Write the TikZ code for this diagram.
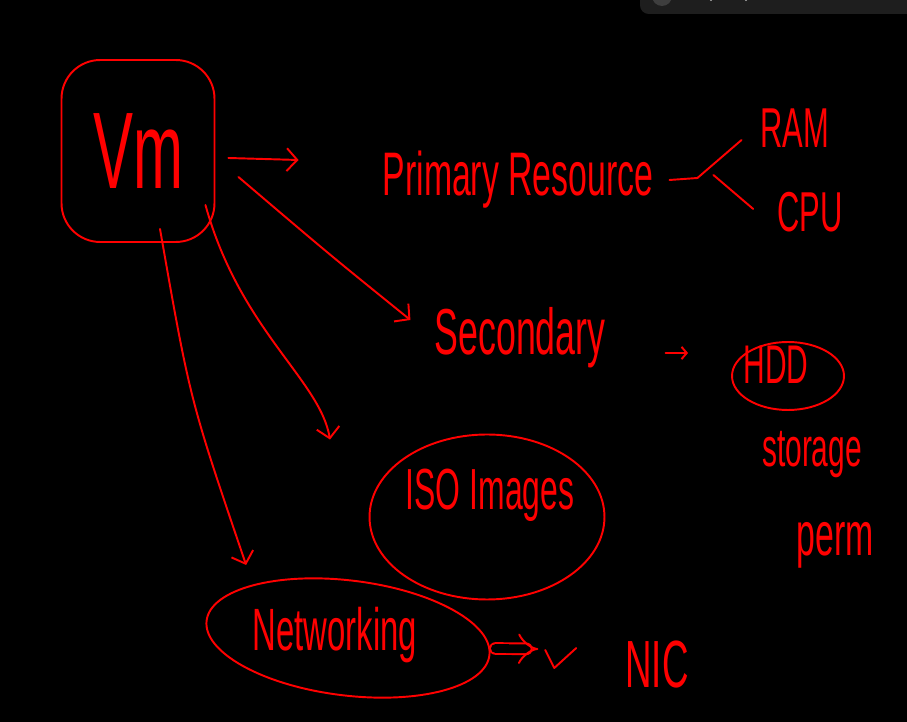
\documentclass[tikz,border=0pt]{standalone}
\usepackage{fontspec}
\setmainfont{Liberation Sans}
\newfontfamily\handfont[FakeStretch=0.55]{Liberation Sans}
\usetikzlibrary{shapes.geometric, arrows.meta, positioning}
\definecolor{ink}{RGB}{255, 0, 0}
\definecolor{board}{RGB}{0, 0, 0}
\definecolor{toolbar}{RGB}{30, 30, 30}
\definecolor{knob}{RGB}{62, 62, 62}

\begin{document}
\begin{tikzpicture}[
	x=0.02cm, y=-0.02cm,
	>={Straight Barb[length=6pt, width=13pt]},
	% Styles
	hand/.style={draw=ink, line width=1.1pt, line cap=round, line join=round},
	link/.style={hand, ->},
	scrawl/.style={text=ink, inner sep=1pt, font=\handfont\fontsize{#1}{#1}\selectfont},
	scrawl/.default=34,
	blob/.style={hand, ellipse, inner sep=0pt},
	vmbox/.style={hand, rounded corners=22pt, minimum width=3.06cm, minimum height=3.64cm, text=ink, font=\handfont\fontsize{62}{62}\selectfont}
	]
	
	% ==========================================
	% Board
	% ==========================================
	\fill[board] (0, 0) rectangle (907, 722);
	\useasboundingbox (0, 0) rectangle (907, 722);
	
	% Toolbar strip at the top
	\begin{scope}
		\clip (0, 0) rectangle (907, 722);
		\fill[toolbar, rounded corners=5pt] (640, -20) rectangle (930, 14);
		\fill[knob] (662, -4) circle (10);
		\fill[white!70!black] (711, 0) circle (1.2);
		\fill[white!70!black] (746, 0) circle (1.2);
	\end{scope}
	
	% ==========================================
	% VM and its resources
	% ==========================================
	\node[vmbox] (vm) at (138, 151) {Vm};
	
	\node[scrawl=35] (primary) at (518, 180) {Primary Resource};
	\node[scrawl=32] (ram) at (795, 128) {RAM};
	\node[scrawl=32] (cpu) at (810, 212) {CPU};
	
	\node[scrawl=37] (secondary) at (520, 338) {Secondary};
	\node[blob, minimum width=2.24cm, minimum height=1.36cm] (hddring) at (788, 376) {};
	\node[scrawl=31] (hdd) at (776, 365) {HDD};
	\node[scrawl=31] (storage) at (812, 455) {storage};
	\node[scrawl=35] (perm) at (835, 545) {perm};
	
	\node[blob, minimum width=4.7cm, minimum height=3.3cm] (isoring) at (487, 517) {};
	\node[scrawl=33] (iso) at (490, 495) {ISO Images};
	
	\node[blob, minimum width=5.7cm, minimum height=2.3cm, rotate=-7] (netring) at (348, 638) {};
	\node[scrawl=34] (net) at (335, 635) {Networking};
	\node[scrawl=38] (nic) at (657, 665) {NIC};
	
	% Arrows out of the VM
	\draw[link] ([shift={(13,7)}]vm.east) -- ([shift={(-82,-20)}]primary.west);
	\draw[link] ([shift={(23,26)}]vm.east) .. controls (330, 255) .. ([shift={(-22,-18)}]secondary.west);
	\draw[link] ([shift={(-10,54)}]vm.east) .. controls (240, 330) and (320, 380) .. ([shift={(-157,6)}]isoring.north);
	\draw[link] ([shift={(22,-14)}]vm.south) .. controls (190, 400) .. ([shift={(-109,-15)}]netring.north);
	
	% Primary resource splits into RAM and CPU
	\coordinate (fork) at ([shift={(42,-2)}]primary.east);
	\draw[hand] ([xshift=8pt]primary.east) -- (fork) -- ([shift={(-17,12)}]ram.west);
	\draw[hand] ([shift={(16,-3)}]fork) -- ([shift={(-22,-3)}]cpu.west);
	
	% Secondary to HDD
	\draw[link, >={Straight Barb[length=3pt, width=7pt]}] ([shift={(58,15)}]secondary.east) -- ([shift={(-43,-23)}]hddring.west);
	
	% Networking to NIC
	\draw[hand, double=board, double distance=5pt, -{Implies}] ([shift={(5,-7)}]netring.east) -- ([shift={(-85,-16)}]nic.west);
	\draw[hand] ([shift={(-78,-15)}]nic.west) -- ++(9, 18) -- ++(22, -20);
	
\end{tikzpicture}
\end{document}
